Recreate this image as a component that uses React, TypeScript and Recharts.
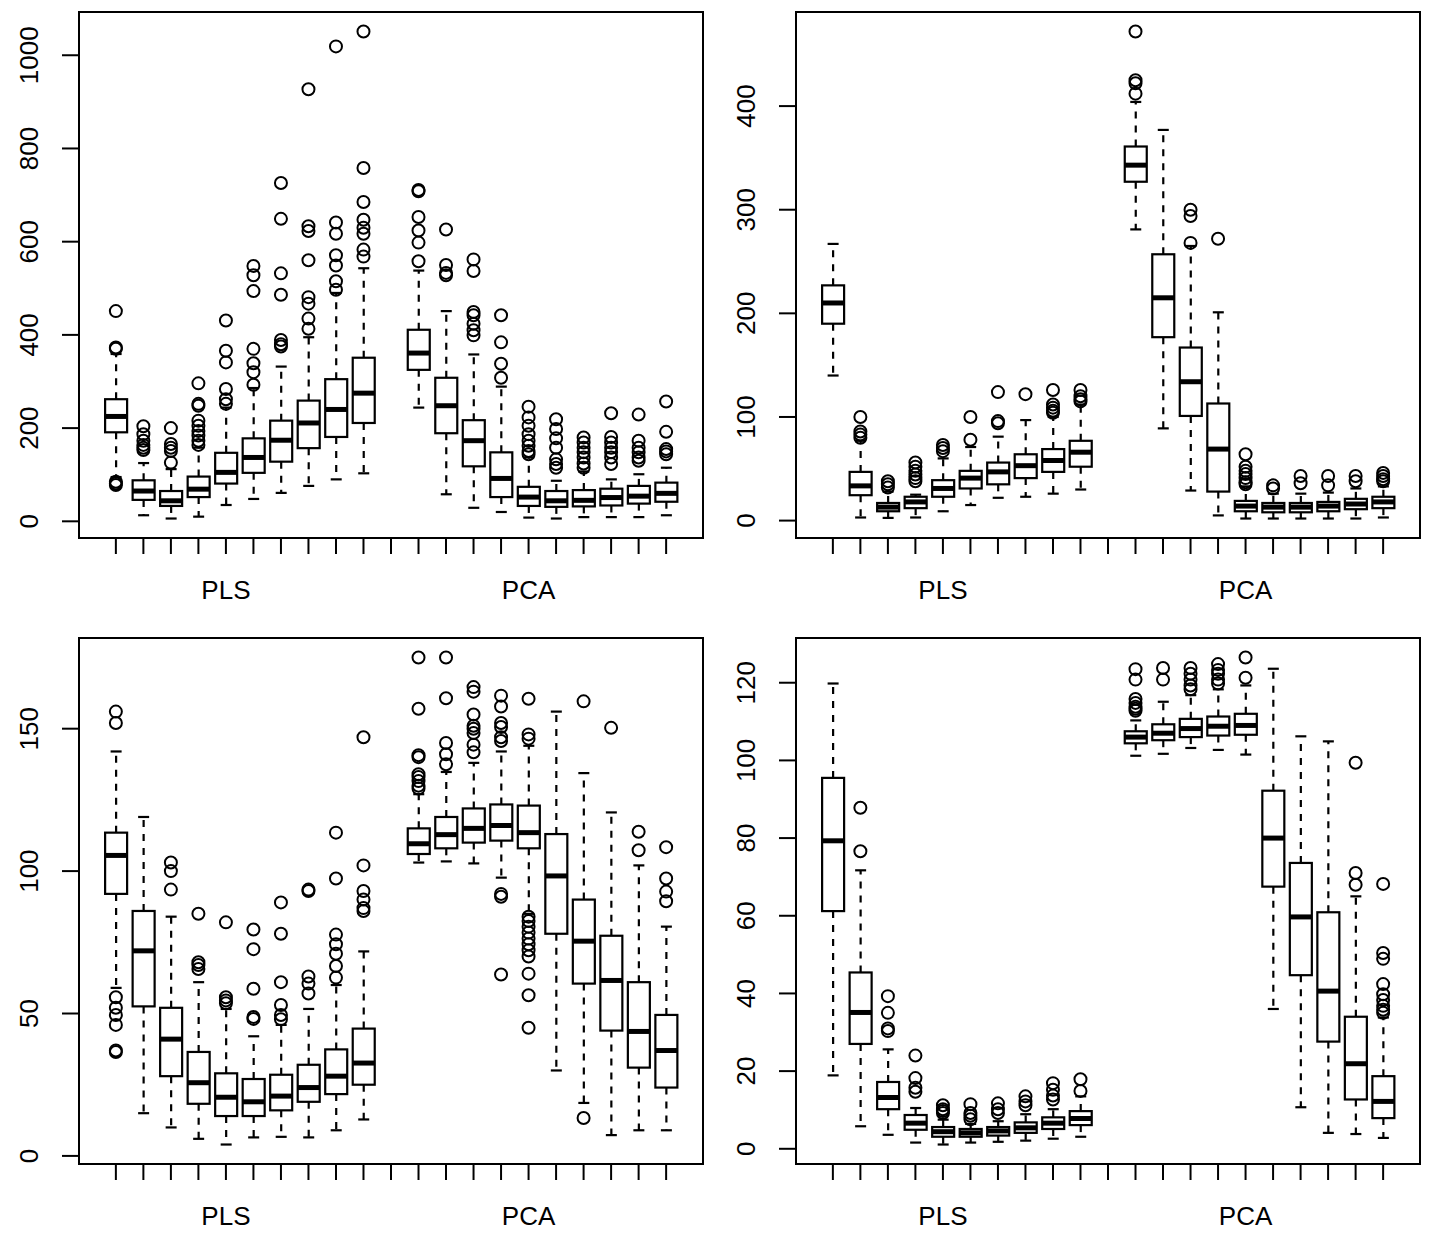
import { Bar, ComposedChart, ReferenceArea, Scatter, XAxis, YAxis } from 'recharts'

// slot positions of the 20 boxes (slot 11 is the gap between the groups)
const SLOTS = [1, 2, 3, 4, 5, 6, 7, 8, 9, 10, 12, 13, 14, 15, 16, 17, 18, 19, 20, 21]
const X_TICKS = [1, 2, 3, 4, 5, 6, 7, 8, 9, 10, 11, 12, 13, 14, 15, 16, 17, 18, 19, 20, 21]
const GROUP_LABELS: Record<number, string> = { 5: 'PLS', 16: 'PCA' }

// each row: [lower whisker, q1, median, q3, upper whisker]
const TOP_LEFT_STATS = [
  [95, 191, 225, 262, 359],
  [13, 46, 65, 88, 125],
  [6, 33, 44, 65, 112],
  [10, 52, 69, 96, 158],
  [35, 81, 105, 147, 244],
  [48, 104, 137, 178, 286],
  [61, 128, 174, 216, 332],
  [76, 157, 211, 259, 395],
  [90, 181, 240, 305, 490],
  [103, 211, 275, 351, 543],
  [244, 325, 361, 411, 538],
  [58, 189, 248, 308, 451],
  [29, 118, 173, 217, 358],
  [20, 52, 92, 148, 289],
  [8, 33, 52, 74, 137],
  [6, 31, 44, 65, 87],
  [9, 32, 45, 67, 107],
  [9, 34, 51, 70, 90],
  [9, 38, 54, 76, 101],
  [13, 42, 60, 83, 115],
]
const TOP_LEFT_OUT = [
  [451, 373, 370, 85, 81, 78],
  [204, 187, 173, 164, 158, 153],
  [200, 166, 158, 151, 126],
  [296, 252, 248, 216, 205, 194, 184, 173, 164],
  [431, 366, 341, 284, 262, 252],
  [548, 528, 494, 370, 339, 320, 293],
  [726, 649, 532, 486, 389, 380, 375],
  [927, 633, 623, 560, 481, 467, 435, 413],
  [1019, 641, 617, 571, 549, 515, 497],
  [1051, 758, 685, 647, 630, 617, 583, 568],
  [711, 708, 653, 624, 598, 558],
  [626, 550, 533, 528],
  [562, 537, 449, 442, 424, 410, 399],
  [442, 384, 338, 308],
  [246, 223, 205, 187, 173, 162, 151, 144],
  [219, 198, 178, 158, 133, 123, 115],
  [180, 169, 158, 148, 137, 124, 115],
  [232, 181, 169, 158, 148, 137, 123],
  [229, 173, 158, 148, 137, 130],
  [257, 192, 155, 150, 144],
]
const TOP_LEFT_TICKS = [0, 200, 400, 600, 800, 1000]

const TOP_RIGHT_STATS = [
  [140, 190, 210, 227, 267],
  [3, 24.5, 33.5, 47, 77],
  [2.6, 9, 13, 17, 28],
  [3, 12, 18, 23, 25],
  [9, 23, 31, 39, 60],
  [15, 31, 41, 48, 71],
  [22, 35, 47, 56, 81],
  [23, 41, 53, 64, 97],
  [26, 47, 58, 69, 100],
  [30, 52, 66, 77, 112],
  [281, 327, 343, 361, 404],
  [89, 177, 215, 257, 377],
  [29, 101, 134, 167, 265],
  [5, 28, 69, 113, 201],
  [2, 9, 14, 19, 33],
  [2, 8, 13, 17, 26],
  [2, 8, 13, 17, 26],
  [2, 9, 14, 18, 27],
  [2, 11, 16, 21, 31],
  [3, 12, 18, 23, 33],
]
const TOP_RIGHT_OUT = [
  [],
  [100, 86, 83, 80],
  [38, 35, 32],
  [56, 52, 48, 44.5, 41, 38],
  [73, 70, 67],
  [100, 78],
  [124, 96, 94],
  [122],
  [126, 112, 109, 106, 104],
  [126, 120, 117, 115],
  [472, 425, 422, 412],
  [],
  [300, 294, 268],
  [272],
  [64, 52, 48, 45, 41, 37, 35],
  [34, 31],
  [43, 36],
  [43, 34],
  [43, 38],
  [46, 43, 40, 38],
]
const TOP_RIGHT_TICKS = [0, 100, 200, 300, 400]

const BOTTOM_LEFT_STATS = [
  [59, 92, 105.5, 113.5, 142],
  [15, 52.5, 72, 86, 119],
  [10, 28, 41, 52, 84],
  [6, 18.3, 25.7, 36.5, 61],
  [4, 14, 20.6, 29, 51.6],
  [6.5, 14, 19, 27, 42],
  [6.7, 16, 21, 28.5, 46],
  [6.5, 19, 24, 32, 51.6],
  [9, 21.7, 28, 37.4, 60],
  [12.8, 25, 32.6, 44.7, 71.8],
  [103, 106, 109.6, 115, 127],
  [103.4, 108, 112.8, 119, 134.8],
  [102.7, 110, 115, 122, 138],
  [97.7, 110.7, 116, 123.4, 142],
  [85, 108, 113.5, 123, 144],
  [30, 78, 98.3, 113, 156],
  [18.6, 60.5, 75.4, 90, 134.4],
  [7.3, 44, 61.6, 77.3, 120.6],
  [9, 31, 43.7, 61, 102],
  [9, 24, 37, 49.5, 80.5],
]
const BOTTOM_LEFT_OUT = [
  [156, 152, 55.7, 52, 49.5, 46, 37, 36.5],
  [],
  [103, 100, 93.5],
  [85, 68, 67, 65.6],
  [82, 55.7, 54.6, 53.6],
  [79.5, 72.6, 58.7, 48.8, 48.1],
  [89, 78, 61, 53, 49.5, 48],
  [93.5, 93, 63, 60.5, 57],
  [113.5, 97.4, 77.7, 74.3, 71, 66.7, 62.6],
  [147, 102, 93, 90, 87, 86],
  [175, 157, 140.7, 140, 134, 133, 131.6, 130, 129],
  [175, 160.7, 145, 141, 137.5],
  [164.6, 163, 155, 151, 150, 148.5, 144.4, 141.7],
  [161.6, 157.8, 152, 150.6, 147, 145.7, 92, 91, 63.7],
  [160.5, 148, 146.5, 84, 82.5, 80.5, 78.4, 76.3, 74.3, 72.2, 70, 64, 56.4, 45],
  [],
  [159.6, 13.3],
  [150.3],
  [113.8, 107.3],
  [108.4, 97.4, 92.8, 89.4],
]
const BOTTOM_LEFT_TICKS = [0, 50, 100, 150]

const BOTTOM_RIGHT_STATS = [
  [18.9, 61.2, 79.3, 95.5, 119.8],
  [5.8, 27, 35.1, 45.4, 71.7],
  [3.6, 10.2, 13.2, 17.2, 25.6],
  [1.6, 4.9, 6.6, 8.7, 10.5],
  [1.1, 3.1, 4.4, 5.6, 7.5],
  [1.6, 3.1, 4.1, 5.1, 6.4],
  [1.8, 3.4, 4.6, 5.6, 7.1],
  [2.1, 4.1, 5.4, 6.8, 8.9],
  [2.6, 5.1, 6.6, 8.1, 10.2],
  [3.1, 6.1, 7.8, 9.7, 13.5],
  [101.2, 104.4, 106, 107.5, 110.3],
  [101.7, 105.2, 107, 109.3, 115.1],
  [103.2, 106, 108.2, 110.7, 116.8],
  [102.7, 106.4, 108.8, 111.3, 118.3],
  [101.5, 106.6, 109, 112, 119.3],
  [36, 67.5, 80, 92.2, 123.6],
  [10.7, 44.7, 59.7, 73.6, 106.2],
  [4.1, 27.6, 40.6, 60.9, 104.9],
  [3.8, 12.7, 21.9, 34, 65],
  [2.8, 7.9, 12.2, 18.7, 33.8],
]
const BOTTOM_RIGHT_OUT = [
  [],
  [87.8, 76.6],
  [39.3, 35, 31, 30.3],
  [24, 18.2, 15.7, 14.7],
  [11.2, 10.2, 9.7, 9.2],
  [11.5, 9.2, 8.5, 7.6],
  [11.7, 10.2, 9.2],
  [13.5, 12.2, 11.2],
  [16.9, 15.2, 13.7, 12.7],
  [17.9, 14.9],
  [123.5, 120.8, 115.8, 114.8, 113.8, 113.3, 112.8],
  [123.8, 120.8],
  [123.8, 122.3, 120.8, 119.3, 118.3],
  [124.8, 123.3, 122.3, 120.8, 119.8],
  [126.5, 121.3],
  [],
  [],
  [],
  [99.4, 71, 68],
  [68.2, 50.4, 48.9, 42.4, 39.8, 38.3, 36.8, 35.8, 35],
]
const BOTTOM_RIGHT_TICKS = [0, 20, 40, 60, 80, 100, 120]

const FONT = '"Liberation Sans", Arial, Helvetica, sans-serif'
const W = 717
const H = 610
// R-style 4% padding around the slot range
const X_DOMAIN: [number, number] = [0.5 - 21 * 0.04, 21.5 + 21 * 0.04]

function paddedDomain(stats: number[][], out: number[][]): [number, number] {
  const all = [...stats.flat(), ...out.flat()]
  const lo = Math.min(...all)
  const hi = Math.max(...all)
  const pad = (hi - lo) * 0.04
  return [lo - pad, hi + pad]
}

function BoxShape(props: any) {
  const { x, y, width, height, payload } = props
  const { lo, q1, med, q3, hi } = payload
  const top = Math.min(y, y + height)
  const k = Math.abs(height) / (hi - lo)
  const py = (v: number) => top + (hi - v) * k
  const cx = x + width / 2
  const cap = width / 4
  return (
    <g stroke="#000" fill="none">
      <line x1={cx} x2={cx} y1={py(q3)} y2={py(hi)} strokeWidth={2.2} strokeDasharray="7 7" />
      <line x1={cx} x2={cx} y1={py(q1)} y2={py(lo)} strokeWidth={2.2} strokeDasharray="7 7" />
      <line x1={cx - cap} x2={cx + cap} y1={py(hi)} y2={py(hi)} strokeWidth={2.2} />
      <line x1={cx - cap} x2={cx + cap} y1={py(lo)} y2={py(lo)} strokeWidth={2.2} />
      <rect x={x} y={py(q3)} width={width} height={py(q1) - py(q3)} fill="#fff" strokeWidth={2.2} />
      <line x1={x} x2={x + width} y1={py(med)} y2={py(med)} strokeWidth={5} />
    </g>
  )
}

function Ring(props: any) {
  return <circle cx={props.cx} cy={props.cy} r={6} fill="none" stroke="#000" strokeWidth={2} />
}

function XTick(props: any) {
  const label = GROUP_LABELS[props.payload.value]
  if (!label) return <g />
  return (
    <text x={props.x} y={599} textAnchor="middle" fontFamily={FONT} fontSize={26} fill="#000">
      {label}
    </text>
  )
}

function YTick(props: any) {
  const y = props.y
  return (
    <text
      x={38}
      y={y}
      transform={`rotate(-90 38 ${y})`}
      textAnchor="middle"
      fontFamily={FONT}
      fontSize={26}
      fill="#000"
    >
      {props.payload.value}
    </text>
  )
}

function Panel({
  stats,
  outliers,
  yTicks,
  left,
  top,
}: {
  stats: number[][]
  outliers: number[][]
  yTicks: number[]
  left: number
  top: number
}) {
  const rows = stats.map((s, i) => ({
    pos: SLOTS[i],
    range: [s[0], s[4]],
    lo: s[0],
    q1: s[1],
    med: s[2],
    q3: s[3],
    hi: s[4],
  }))
  const points = outliers.flatMap((vals, i) => vals.map((v) => ({ pos: SLOTS[i], val: v })))
  const yDomain = paddedDomain(stats, outliers)
  const tickLine = { stroke: '#000', strokeWidth: 2 }

  return (
    <div style={{ position: 'absolute', left, top, width: W, height: H }}>
      <ComposedChart
        width={W}
        height={H}
        data={rows}
        margin={{ top: 12, right: 14, bottom: 12, left: 19 }}
      >
        <XAxis
          type="number"
          dataKey="pos"
          domain={X_DOMAIN}
          ticks={X_TICKS}
          interval={0}
          height={60}
          tickSize={16}
          axisLine={false}
          tickLine={tickLine}
          tick={XTick}
          allowDataOverflow
        />
        <YAxis
          type="number"
          domain={yDomain}
          ticks={yTicks}
          interval={0}
          width={60}
          tickSize={17}
          axisLine={false}
          tickLine={tickLine}
          tick={YTick}
          allowDataOverflow
        />
        <ReferenceArea
          x1={X_DOMAIN[0]}
          x2={X_DOMAIN[1]}
          y1={yDomain[0]}
          y2={yDomain[1]}
          fill="none"
          stroke="#000"
          strokeWidth={2}
          ifOverflow="visible"
        />
        <Bar dataKey="range" barSize={22} shape={BoxShape} isAnimationActive={false} />
        <Scatter data={points} dataKey="val" shape={Ring} isAnimationActive={false} />
      </ComposedChart>
    </div>
  )
}

export default function App() {
  return (
    <div style={{ position: 'absolute', left: 0, top: 0, width: 1434, height: 1242, background: '#fff' }}>
      <Panel stats={TOP_LEFT_STATS} outliers={TOP_LEFT_OUT} yTicks={TOP_LEFT_TICKS} left={0} top={0} />
      <Panel stats={TOP_RIGHT_STATS} outliers={TOP_RIGHT_OUT} yTicks={TOP_RIGHT_TICKS} left={717} top={0} />
      <Panel stats={BOTTOM_LEFT_STATS} outliers={BOTTOM_LEFT_OUT} yTicks={BOTTOM_LEFT_TICKS} left={0} top={626} />
      <Panel stats={BOTTOM_RIGHT_STATS} outliers={BOTTOM_RIGHT_OUT} yTicks={BOTTOM_RIGHT_TICKS} left={717} top={626} />
    </div>
  )
}
